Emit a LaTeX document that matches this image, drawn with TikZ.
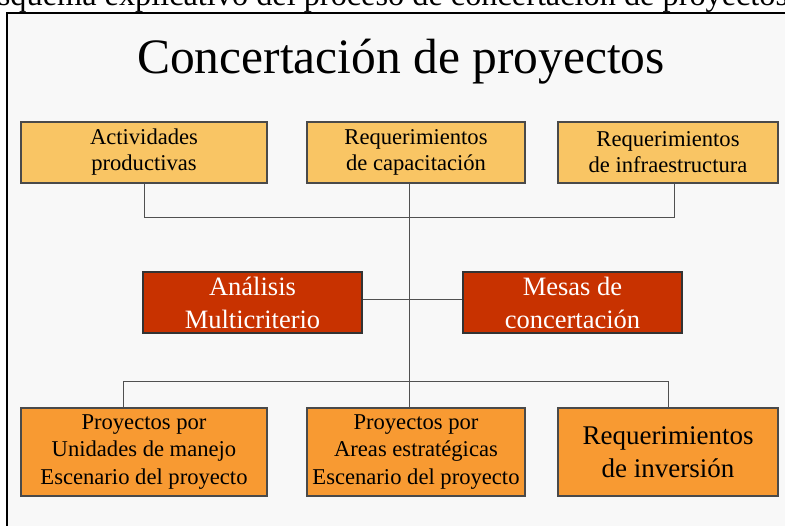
\documentclass[tikz,border=0pt]{standalone}
\usepackage{fontspec}
\setmainfont{Liberation Serif}
\usepackage{tikz}
\usetikzlibrary{positioning,calc}
\definecolor{PaleOrange}{HTML}{F9C564}
\definecolor{BrickRed}{HTML}{C83200}
\definecolor{DeepOrange}{HTML}{F89A32}
\definecolor{FrameGray}{HTML}{F8F8F8}
\definecolor{EdgeGray}{HTML}{4A4A4A}
\definecolor{LinkGray}{HTML}{505050}

\begin{document}
\begin{tikzpicture}[
  x=1pt,y=-1pt,
  box/.style={rectangle,draw=EdgeGray,line width=1.2pt,align=center,inner sep=2pt,
              minimum height=61pt},
  need/.style={box,fill=PaleOrange,font=\fontsize{22.6}{26}\selectfont},
  method/.style={box,fill=BrickRed,draw=black!80,text=white,minimum width=219pt,
                 font=\fontsize{26.5}{33}\selectfont},
  result/.style={box,fill=DeepOrange,minimum height=88pt,font=\fontsize{22.6}{27.5}\selectfont},
  link/.style={draw=LinkGray,line width=0.9pt}
]
\useasboundingbox (0,0) rectangle (785,526);

%% Frame and captions
\fill[white] (0,0) rectangle (785,526);
\fill[FrameGray] (7,13) rectangle (800,540);
\draw[line width=1.2pt] (7,540) -- (7,13) -- (800,13);
\node[anchor=base west,inner sep=0pt,font=\fontsize{32.3}{36}\selectfont]
  (caption) at (-22,6) {Esquema explicativo del proceso de concertación de proyectos};
\node[font=\fontsize{49.5}{54}\selectfont,inner sep=0pt] (title) at (401,62) {Concertación de proyectos};

%% Needs
\node[need,minimum width=246pt] (act) at (144,152.5) {Actividades\\productivas};
\node[need,minimum width=218pt] (cap) at (416,152.5) {Requerimientos\\de capacitación};
\node[need,minimum width=220pt] (inf) at (668,152.5) {Requerimientos\\de infraestructura};

%% Methods
\node[method] (ana) at (252.5,302.5) {Análisis\\Multicriterio};
\node[method] (mes) at (572.5,302.5) {Mesas de\\concertación};

%% Results
\node[result,minimum width=246pt] (upm) at (144,452) {Proyectos por\\Unidades de manejo\\Escenario del proyecto};
\node[result,minimum width=218pt] (uae) at (416,452) {Proyectos por\\Areas estratégicas\\Escenario del proyecto};
\node[result,minimum width=220pt,font=\fontsize{27}{33}\selectfont] (inv) at (668,452) {Requerimientos\\de inversión};

%% Connectors
\coordinate (trunk) at (409,0);
\coordinate (topbar) at (0,217);
\coordinate (lowbar) at (0,381);
\draw[link] (act.south) -- (act.south |- topbar) -- ([xshift=6pt]inf.south |- topbar) -- ([xshift=6pt]inf.south);
\draw[link] (cap.south -| trunk) -- (uae.north -| trunk);
\draw[link] ([yshift=3pt]ana.east) -- ([yshift=3pt]mes.west);
\draw[link] ([xshift=-21pt]upm.north) -- ([xshift=-21pt]upm.north |- lowbar) -- (inv.north |- lowbar) -- (inv.north);

\end{tikzpicture}
\end{document}
